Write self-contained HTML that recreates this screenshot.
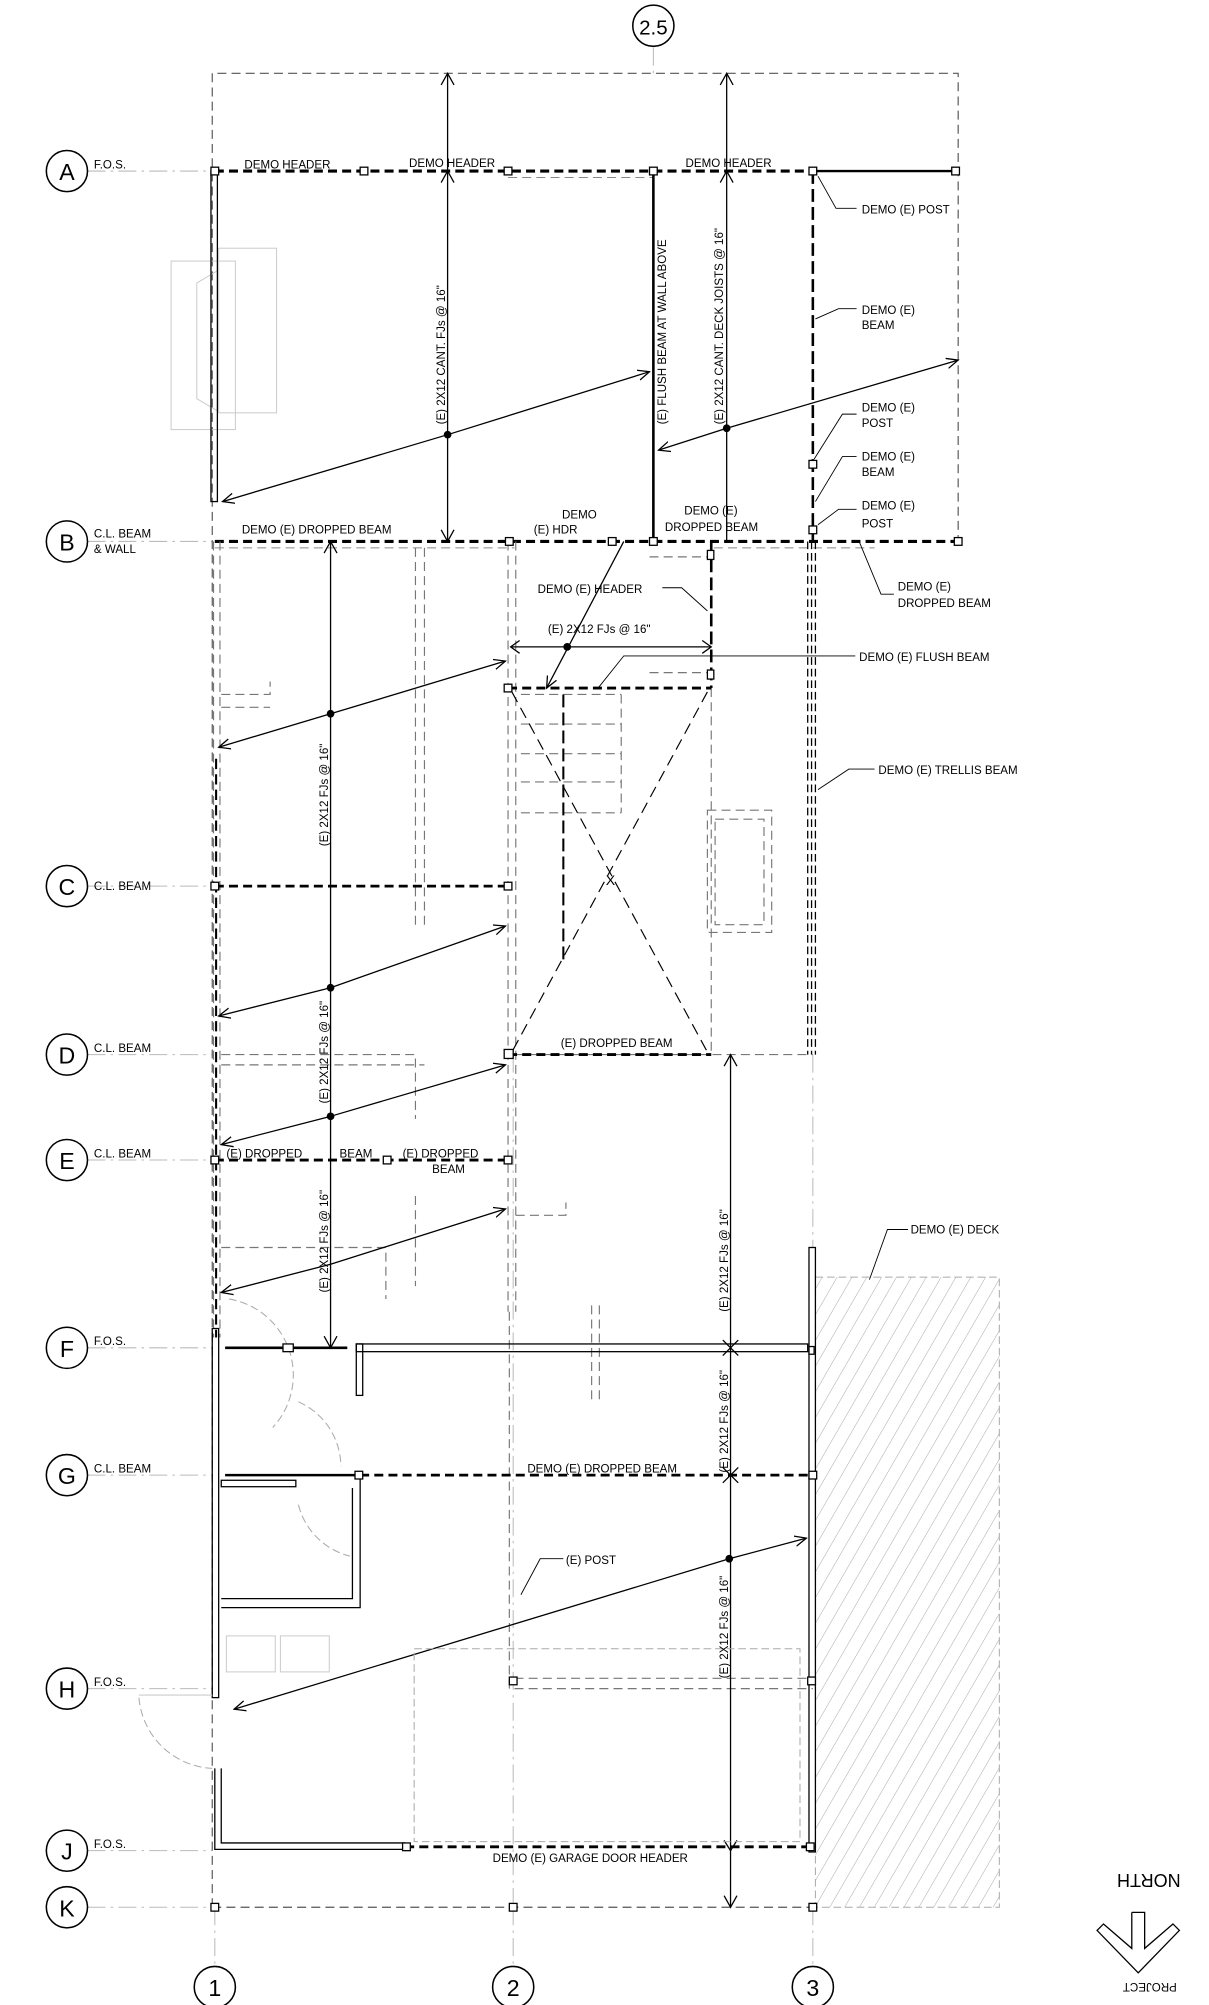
<!DOCTYPE html>
<html><head><meta charset="utf-8"><style>
html,body{margin:0;padding:0;background:#fff}
svg{display:block}
text{font-family:"Liberation Sans",sans-serif;fill:#000}
</style></head><body>
<svg width="1209" height="2005" viewBox="0 0 940 1559" xmlns="http://www.w3.org/2000/svg">
<defs>
<marker id="ar" markerWidth="10" markerHeight="10" refX="9" refY="5" orient="auto" markerUnits="userSpaceOnUse"><path d="M0,1 L9,5 L0,9" fill="none" stroke="#000" stroke-width="1"/></marker>
<pattern id="hat" width="10" height="10" patternUnits="userSpaceOnUse" patternTransform="rotate(30)"><line x1="0" y1="0" x2="0" y2="10" stroke="#aaa" stroke-width="0.8"/></pattern>
</defs>
<g fill="none" stroke-linecap="butt">
<!-- grid lines -->
<g stroke="#bbb" stroke-width="0.8" stroke-dasharray="14,4,2,4">
<line x1="68" y1="133" x2="165" y2="133"/><line x1="68" y1="421" x2="165" y2="421"/>
<line x1="68" y1="689" x2="165" y2="689"/><line x1="68" y1="820" x2="165" y2="820"/>
<line x1="68" y1="902" x2="165" y2="902"/><line x1="68" y1="1048" x2="165" y2="1048"/>
<line x1="68" y1="1147" x2="165" y2="1147"/><line x1="68" y1="1313" x2="165" y2="1313"/>
<line x1="68" y1="1439" x2="165" y2="1439"/><line x1="68" y1="1483" x2="165" y2="1483"/>
<line x1="167" y1="1483" x2="167" y2="1530"/><line x1="399" y1="1483" x2="399" y2="1530"/><line x1="632" y1="1483" x2="632" y2="1530"/>
<line x1="508" y1="37" x2="508" y2="57"/>
<line x1="399" y1="820" x2="399" y2="1483"/><line x1="632" y1="820" x2="632" y2="970"/>
</g>
<!-- outer dashed boundary -->
<g stroke="#555" stroke-width="0.9" stroke-dasharray="7,4">
<polyline points="165,1483 165,57 745,57 745,421"/>
<line x1="165" y1="1483" x2="632" y2="1483"/>
</g>
<!-- deck -->
<rect x="634" y="993" width="143" height="490" fill="url(#hat)" stroke="#aaa" stroke-width="0.8" stroke-dasharray="6,3"/>
<!-- window at top left -->
<g stroke="#ccc" stroke-width="0.8"><rect x="133" y="203" width="50" height="131"/><rect x="170" y="193" width="45" height="128"/><polyline points="170,210 153,220 153,310 170,320"/></g>
<!-- Row A -->
<line x1="167" y1="133" x2="632" y2="133" stroke="#000" stroke-width="2.4" stroke-dasharray="7,4"/>
<line x1="632" y1="133" x2="743" y2="133" stroke="#000" stroke-width="1.8"/>
<line x1="395" y1="138" x2="508" y2="138" stroke="#888" stroke-width="0.8" stroke-dasharray="7,4"/>
<!-- left wall -->
<rect x="164" y="133" width="5" height="257" stroke="#000" stroke-width="1"/>
<!-- flush beam -->
<line x1="508" y1="133" x2="508" y2="421" stroke="#000" stroke-width="2"/>
<!-- demo beam vertical at 3 -->
<line x1="632" y1="133" x2="632" y2="421" stroke="#000" stroke-width="2" stroke-dasharray="10,4"/>
<!-- dims top -->
<g stroke="#000" stroke-width="1">
<line x1="348" y1="57" x2="348" y2="421"/><polyline points="343,66 348,57 353,66"/><polyline points="343,412 348,421 353,412"/><polyline points="343,142 348,133 353,142"/>
<line x1="565" y1="57" x2="565" y2="421"/><polyline points="560,66 565,57 570,66"/><polyline points="560,142 565,133 570,142"/>
<line x1="348" y1="338" x2="173" y2="390" marker-end="url(#ar)"/><line x1="348" y1="338" x2="505" y2="289" marker-end="url(#ar)"/>
<line x1="565" y1="333" x2="512" y2="350" marker-end="url(#ar)"/><line x1="565" y1="333" x2="745" y2="280" marker-end="url(#ar)"/>
</g>
<circle cx="348" cy="338" r="3" fill="#000"/><circle cx="565" cy="333" r="3" fill="#000"/>
<!-- Row B -->
<line x1="167" y1="421" x2="745" y2="421" stroke="#000" stroke-width="2.4" stroke-dasharray="7,4"/>
<line x1="167" y1="426" x2="400" y2="426" stroke="#888" stroke-width="0.8" stroke-dasharray="7,4"/>
<line x1="555" y1="426" x2="680" y2="426" stroke="#888" stroke-width="0.8" stroke-dasharray="7,4"/>
<!-- trellis beam -->
<g stroke="#000" stroke-width="1" stroke-dasharray="6,3"><line x1="628" y1="421" x2="628" y2="820"/><line x1="631" y1="421" x2="631" y2="820"/><line x1="634" y1="421" x2="634" y2="820"/></g>
<!-- left dashed wall -->
<g stroke="#777" stroke-width="0.9" stroke-dasharray="7,4"><line x1="166" y1="421" x2="166" y2="1040"/><line x1="171" y1="421" x2="171" y2="1040"/></g>
<line x1="168" y1="590" x2="168" y2="1040" stroke="#000" stroke-width="1.6" stroke-dasharray="8,4"/>
<!-- interior dashed partitions -->
<g stroke="#777" stroke-width="0.9" stroke-dasharray="7,4">
<line x1="323" y1="426" x2="323" y2="720"/><line x1="330" y1="426" x2="330" y2="720"/>
<line x1="395" y1="421" x2="395" y2="1020"/><line x1="401" y1="421" x2="401" y2="1020"/>
<polyline points="172,540 210,540 210,530"/><polyline points="172,550 210,550"/>
<polyline points="172,820 323,820 323,870"/><polyline points="172,828 330,828"/>
<polyline points="172,970 300,970 300,1010"/><polyline points="323,930 323,1000"/>
<polyline points="401,945 440,945 440,935"/><polyline points="460,1015 460,1090"/><polyline points="466,1015 466,1090"/>
<rect x="550" y="630" width="50" height="95"/><rect x="556" y="637" width="38" height="82"/>
<line x1="553" y1="535" x2="553" y2="820"/>
<line x1="405" y1="540" x2="483" y2="540"/><line x1="405" y1="563" x2="483" y2="563"/><line x1="405" y1="586" x2="483" y2="586"/><line x1="405" y1="608" x2="483" y2="608"/><line x1="405" y1="632" x2="483" y2="632"/>
<line x1="483" y1="540" x2="483" y2="632"/>
<line x1="400" y1="820" x2="632" y2="820"/>
<line x1="505" y1="433" x2="550" y2="433"/><line x1="505" y1="523" x2="550" y2="523"/>
<line x1="400" y1="1305" x2="632" y2="1305"/><line x1="400" y1="1313" x2="632" y2="1313"/>
<line x1="396" y1="1020" x2="396" y2="1313"/>
</g>
<!-- stair -->
<line x1="395" y1="535" x2="553" y2="535" stroke="#000" stroke-width="2.2" stroke-dasharray="7,4"/>
<line x1="553" y1="421" x2="553" y2="535" stroke="#000" stroke-width="2" stroke-dasharray="10,4"/>
<line x1="438" y1="540" x2="438" y2="750" stroke="#000" stroke-width="1.6" stroke-dasharray="10,4"/>
<g stroke="#000" stroke-width="0.9" stroke-dasharray="9,5"><line x1="398" y1="538" x2="550" y2="818"/><line x1="550" y1="538" x2="398" y2="818"/></g>
<text x="471" y="688" font-size="11">X</text>
<!-- header & dims middle -->
<g stroke="#000" stroke-width="1">
<line x1="397" y1="503" x2="553" y2="503"/><polyline points="404,498 397,503 404,508"/><polyline points="546,498 553,503 546,508"/>
<line x1="485" y1="421" x2="425" y2="535" marker-end="url(#ar)"/>
<line x1="257" y1="421" x2="257" y2="1048"/><polyline points="252,430 257,421 262,430"/><polyline points="252,1039 257,1048 262,1039"/>
<line x1="257" y1="555" x2="170" y2="581" marker-end="url(#ar)"/><line x1="257" y1="555" x2="393" y2="514" marker-end="url(#ar)"/>
<line x1="257" y1="768" x2="170" y2="790" marker-end="url(#ar)"/><line x1="257" y1="768" x2="393" y2="720" marker-end="url(#ar)"/>
<line x1="257" y1="868" x2="172" y2="890" marker-end="url(#ar)"/><line x1="257" y1="868" x2="393" y2="828" marker-end="url(#ar)"/>
<line x1="257" y1="983" x2="172" y2="1005" marker-end="url(#ar)"/><line x1="257" y1="983" x2="393" y2="940" marker-end="url(#ar)"/>
<line x1="568" y1="820" x2="568" y2="1483"/><polyline points="563,829 568,820 573,829"/><polyline points="563,1474 568,1483 573,1474"/>
<line x1="562" y1="1042" x2="574" y2="1054"/><line x1="574" y1="1042" x2="562" y2="1054"/>
<line x1="562" y1="1141" x2="574" y2="1153"/><line x1="574" y1="1141" x2="562" y2="1153"/>
<polyline points="563,1431 568,1439 573,1431"/>
<line x1="567" y1="1212" x2="182" y2="1329" marker-end="url(#ar)"/><line x1="567" y1="1212" x2="627" y2="1196" marker-end="url(#ar)"/>
</g>
<circle cx="441" cy="503" r="3" fill="#000"/><circle cx="257" cy="555" r="3" fill="#000"/><circle cx="257" cy="768" r="3" fill="#000"/><circle cx="257" cy="868" r="3" fill="#000"/><circle cx="567" cy="1212" r="3" fill="#000"/>
<!-- rows C D E -->
<line x1="167" y1="689" x2="395" y2="689" stroke="#000" stroke-width="2.2" stroke-dasharray="7,4"/>
<line x1="395" y1="820" x2="553" y2="820" stroke="#000" stroke-width="2.2" stroke-dasharray="7,4"/>
<line x1="167" y1="902" x2="395" y2="902" stroke="#000" stroke-width="2.2" stroke-dasharray="7,4"/>
<!-- lower walls -->
<g stroke="#000" stroke-width="1">
<rect x="165" y="1033" width="5" height="287"/>
<polyline points="167,1375 167,1438 315,1438"/><polyline points="172,1375 172,1433 315,1433"/>
<rect x="277" y="1045" width="351" height="6"/>
<rect x="277" y="1045" width="5" height="40"/>
<rect x="629" y="970" width="5" height="470"/>
<polyline points="172,1250 280,1250 280,1147"/><polyline points="172,1243 274,1243 274,1157"/>
<rect x="172" y="1151" width="58" height="5"/>
</g>
<line x1="175" y1="1048" x2="270" y2="1048" stroke="#000" stroke-width="2"/>
<line x1="175" y1="1147" x2="280" y2="1147" stroke="#000" stroke-width="2"/>
<line x1="280" y1="1147" x2="630" y2="1147" stroke="#000" stroke-width="2.2" stroke-dasharray="7,4"/>
<line x1="315" y1="1436" x2="630" y2="1436" stroke="#000" stroke-width="2.2" stroke-dasharray="7,4"/>
<g stroke="#aaa" stroke-width="0.8" stroke-dasharray="6,3">
<rect x="322" y="1282" width="300" height="150"/>
<path d="M178,1010 A60,60 0 0 1 212,1110"/><path d="M232,1090 A55,55 0 0 1 265,1140"/>
<path d="M108,1320 A60,60 0 0 0 165,1375"/><path d="M232,1170 A55,55 0 0 0 272,1210"/>
</g>
<g stroke="#ccc" stroke-width="0.8"><rect x="176" y="1272" width="38" height="28"/><rect x="218" y="1272" width="38" height="28"/><line x1="108" y1="1318" x2="165" y2="1318"/></g>
<!-- posts -->
<g stroke="#000" stroke-width="1" fill="#fff">
<rect x="164" y="130" width="6" height="6"/><rect x="280" y="130" width="6" height="6"/><rect x="392" y="130" width="6" height="6"/><rect x="505" y="130" width="6" height="6"/><rect x="629" y="130" width="6" height="6"/><rect x="740" y="130" width="6" height="6"/>
<rect x="629" y="358" width="6" height="6"/><rect x="629" y="409" width="6" height="6"/><rect x="742" y="418" width="6" height="6"/><rect x="505" y="418" width="6" height="6"/>
<rect x="393" y="418" width="6" height="6"/><rect x="473" y="418" width="6" height="6"/><rect x="550" y="428" width="5" height="7"/><rect x="550" y="521" width="5" height="7"/>
<rect x="392" y="532" width="6" height="6"/><rect x="392" y="686" width="6" height="6"/><rect x="164" y="686" width="6" height="6"/>
<rect x="392" y="816" width="7" height="7"/><rect x="392" y="899" width="6" height="6"/><rect x="164" y="899" width="6" height="6"/><rect x="298" y="899" width="6" height="6"/>
<rect x="220" y="1045" width="8" height="6"/><rect x="276" y="1144" width="6" height="6"/><rect x="629" y="1144" width="6" height="6"/><rect x="396" y="1304" width="6" height="6"/><rect x="628" y="1304" width="6" height="6"/>
<rect x="313" y="1433" width="6" height="6"/><rect x="627" y="1433" width="6" height="6"/>
<rect x="164" y="1480" width="6" height="6"/><rect x="396" y="1480" width="6" height="6"/><rect x="629" y="1480" width="6" height="6"/>
<rect x="629" y="1047" width="4" height="6"/>
</g>
<!-- leaders -->
<g stroke="#000" stroke-width="0.7">
<polyline points="666,162 650,162 636,137"/><polyline points="666,240 652,240 634,248"/>
<polyline points="666,322 655,322 633,357"/><polyline points="666,355 655,355 634,390"/><polyline points="666,396 652,396 636,408"/>
<polyline points="695,462 685,462 668,421"/><polyline points="665,510 485,510 465,535"/><polyline points="680,598 660,598 636,614"/>
<polyline points="515,457 530,457 550,475"/><polyline points="438,1212 420,1212 405,1240"/><polyline points="706,956 690,956 676,995"/>
</g>
<!-- circles -->
<g stroke="#000" stroke-width="1.2">
<circle cx="52" cy="133" r="16"/><circle cx="52" cy="421" r="16"/><circle cx="52" cy="689" r="16"/><circle cx="52" cy="820" r="16"/><circle cx="52" cy="902" r="16"/><circle cx="52" cy="1048" r="16"/><circle cx="52" cy="1147" r="16"/><circle cx="52" cy="1313" r="16"/><circle cx="52" cy="1439" r="16"/><circle cx="52" cy="1483" r="16"/>
<circle cx="167" cy="1545" r="16"/><circle cx="399" cy="1545" r="16"/><circle cx="632" cy="1545" r="16"/><circle cx="508" cy="20" r="16"/>
</g>
<!-- north arrow -->
<g stroke="#000" stroke-width="1"><polyline points="880,1487 880,1515 858,1496 853,1501 885,1534 917,1501 912,1496 890,1515 890,1487 880,1487"/></g>
</g>
<g font-size="18" text-anchor="middle">
<text x="52" y="140">A</text><text x="52" y="428">B</text><text x="52" y="696">C</text><text x="52" y="827">D</text><text x="52" y="909">E</text><text x="52" y="1055">F</text><text x="52" y="1154">G</text><text x="52" y="1320">H</text><text x="52" y="1446">J</text><text x="52" y="1490">K</text>
<text x="167" y="1552">1</text><text x="399" y="1552">2</text><text x="632" y="1552">3</text><text x="508" y="27" font-size="16">2.5</text>
</g>
<g font-size="9">
<text x="73" y="131">F.O.S.</text><text x="73" y="418">C.L. BEAM</text><text x="73" y="430">&amp; WALL</text>
<text x="73" y="692">C.L. BEAM</text><text x="73" y="818">C.L. BEAM</text><text x="73" y="900">C.L. BEAM</text>
<text x="73" y="1046">F.O.S.</text><text x="73" y="1145">C.L. BEAM</text><text x="73" y="1311">F.O.S.</text><text x="73" y="1437">F.O.S.</text>
<text x="190" y="131">DEMO HEADER</text><text x="318" y="130">DEMO HEADER</text><text x="533" y="130">DEMO HEADER</text>
<text x="670" y="166">DEMO (E) POST</text>
<text x="670" y="244">DEMO (E)</text><text x="670" y="256">BEAM</text>
<text x="670" y="320">DEMO (E)</text><text x="670" y="332">POST</text>
<text x="670" y="358">DEMO (E)</text><text x="670" y="370">BEAM</text>
<text x="670" y="396">DEMO (E)</text><text x="670" y="410">POST</text>
<text x="188" y="415">DEMO (E) DROPPED BEAM</text>
<text x="437" y="403">DEMO</text><text x="415" y="415">(E) HDR</text>
<text x="532" y="400">DEMO (E)</text><text x="517" y="413">DROPPED BEAM</text>
<text x="698" y="459">DEMO (E)</text><text x="698" y="472">DROPPED BEAM</text>
<text x="418" y="461">DEMO (E) HEADER</text>
<text x="426" y="492">(E) 2X12 FJs @ 16"</text>
<text x="668" y="514">DEMO (E) FLUSH BEAM</text>
<text x="683" y="602">DEMO (E) TRELLIS BEAM</text>
<text x="436" y="814">(E) DROPPED BEAM</text>
<text x="176" y="900">(E) DROPPED</text><text x="264" y="900">BEAM</text><text x="313" y="900">(E) DROPPED</text><text x="336" y="912">BEAM</text>
<text x="708" y="959">DEMO (E) DECK</text>
<text x="410" y="1145">DEMO (E) DROPPED BEAM</text>
<text x="440" y="1216">(E) POST</text>
<text x="383" y="1448">DEMO (E) GARAGE DOOR HEADER</text>
<text transform="translate(346,330) rotate(-90)">(E) 2X12 CANT. FJs @ 16"</text>
<text transform="translate(518,330) rotate(-90)">(E) FLUSH BEAM AT WALL ABOVE</text>
<text transform="translate(562,330) rotate(-90)">(E) 2X12 CANT. DECK JOISTS @ 16"</text>
<text transform="translate(255,658) rotate(-90)">(E) 2X12 FJs @ 16"</text>
<text transform="translate(255,858) rotate(-90)">(E) 2X12 FJs @ 16"</text>
<text transform="translate(255,1005) rotate(-90)">(E) 2X12 FJs @ 16"</text>
<text transform="translate(566,1020) rotate(-90)">(E) 2X12 FJs @ 16"</text>
<text transform="translate(566,1145) rotate(-90)">(E) 2X12 FJs @ 16"</text>
<text transform="translate(566,1305) rotate(-90)">(E) 2X12 FJs @ 16"</text>
</g>
<g font-size="14"><text transform="translate(918,1457) rotate(180)">NORTH</text></g>
<g font-size="9"><text transform="translate(915,1542) rotate(180)">PROJECT</text></g>
</svg>
</body></html>
